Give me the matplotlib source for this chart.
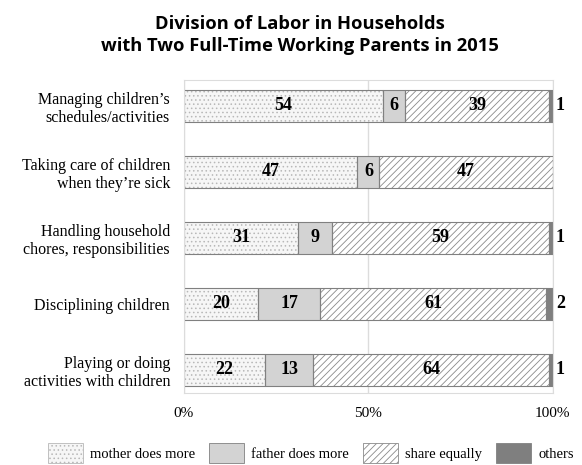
import matplotlib
matplotlib.use("Agg")
import matplotlib.pyplot as plt
import numpy as np
from matplotlib.patches import Patch

categories = ["Managing children\u2019s\nschedules/activities",
              "Taking care of children\nwhen they\u2019re sick",
              "Handling household\nchores, responsibilities",
              "Disciplining children",
              "Playing or doing\nactivities with children"]
mother = [54, 47, 31, 20, 22]
father = [6, 6, 9, 17, 13]
share = [39, 47, 59, 61, 64]
others = [1, 0, 1, 2, 1]
series_names = ["mother does more", "father does more", "share equally", "others"]
xticks = [0, 50, 100]
xtick_labels = ["0%", "50%", "100%"]

plt.rcParams['hatch.linewidth'] = 0.6
serif = "Liberation Serif"

fig = plt.figure(figsize=(5.82, 4.65), dpi=100)
ax = fig.add_axes([0.316, 0.155, 0.634, 0.673])

y = np.arange(len(categories))
edge = '#808080'
# face colour, hatch, hatch colour
styles = [
    dict(color='#f6f6f6', hatch='....', hc='#b8b8b8'),
    dict(color='#d3d3d3', hatch=None, hc=edge),
    dict(color='white', hatch='/////', hc='#8a8a8a'),
    dict(color='#7f7f7f', hatch=None, hc=edge),
]
data = [mother, father, share, others]
left = np.zeros(len(categories))
for vals, st in zip(data, styles):
    vals = np.array(vals, dtype=float)
    # fill + hatch layer
    ax.barh(y, vals, left=left, height=0.49, color=st['color'], hatch=st['hatch'],
            edgecolor=st['hc'], linewidth=0, zorder=2)
    # outline layer
    ax.barh(y, vals, left=left, height=0.49, fill=False,
            edgecolor=edge, linewidth=0.8, zorder=2.5)
    left += vals

# value labels
left = np.zeros(len(categories))
for k, vals in enumerate(data):
    for i, v in enumerate(vals):
        if v == 0:
            continue
        if k == 3:
            ax.text(left[i] + v + 0.8, y[i], str(v), ha='left', va='center',
                    fontsize=13, fontweight='bold', family=serif, clip_on=False)
        else:
            ax.text(left[i] + v / 2, y[i], str(v), ha='center', va='center',
                    fontsize=13, fontweight='bold', family=serif, zorder=3)
    left += np.array(vals)

ax.set_xlim(0, 100)
ax.set_ylim(len(categories) - 1 + 0.35, -0.39)
ax.set_yticks(y)
ax.set_yticklabels(categories, family=serif, fontsize=11.5, linespacing=1.2)
ax.set_xticks(xticks)
ax.set_xticklabels(xtick_labels, family=serif, fontsize=11)
ax.tick_params(length=0, pad=10)
ax.xaxis.grid(True, color='#dcdcdc', linewidth=1, zorder=0)
ax.set_axisbelow(True)
for s in ax.spines.values():
    s.set_color('#dcdcdc')

fig.text(0.515, 0.968, "Division of Labor in Households\nwith Two Full-Time Working Parents in 2015",
         ha='center', va='top', fontsize=13.2, fontweight='bold', family='Open Sans',
         linespacing=1.3)

handles = []
for st in styles:
    handles.append(Patch(facecolor=st['color'], hatch=st['hatch'], edgecolor=st['hc'],
                         linewidth=0.6))
fig.legend(handles, series_names, loc='lower center', bbox_to_anchor=(0.534, -0.024), ncol=4,
           frameon=False, prop={'family': serif, 'size': 10.5}, handlelength=2.4,
           handleheight=1.7, columnspacing=0.95, handletextpad=0.5)

fig.savefig("out.png", dpi=100)
